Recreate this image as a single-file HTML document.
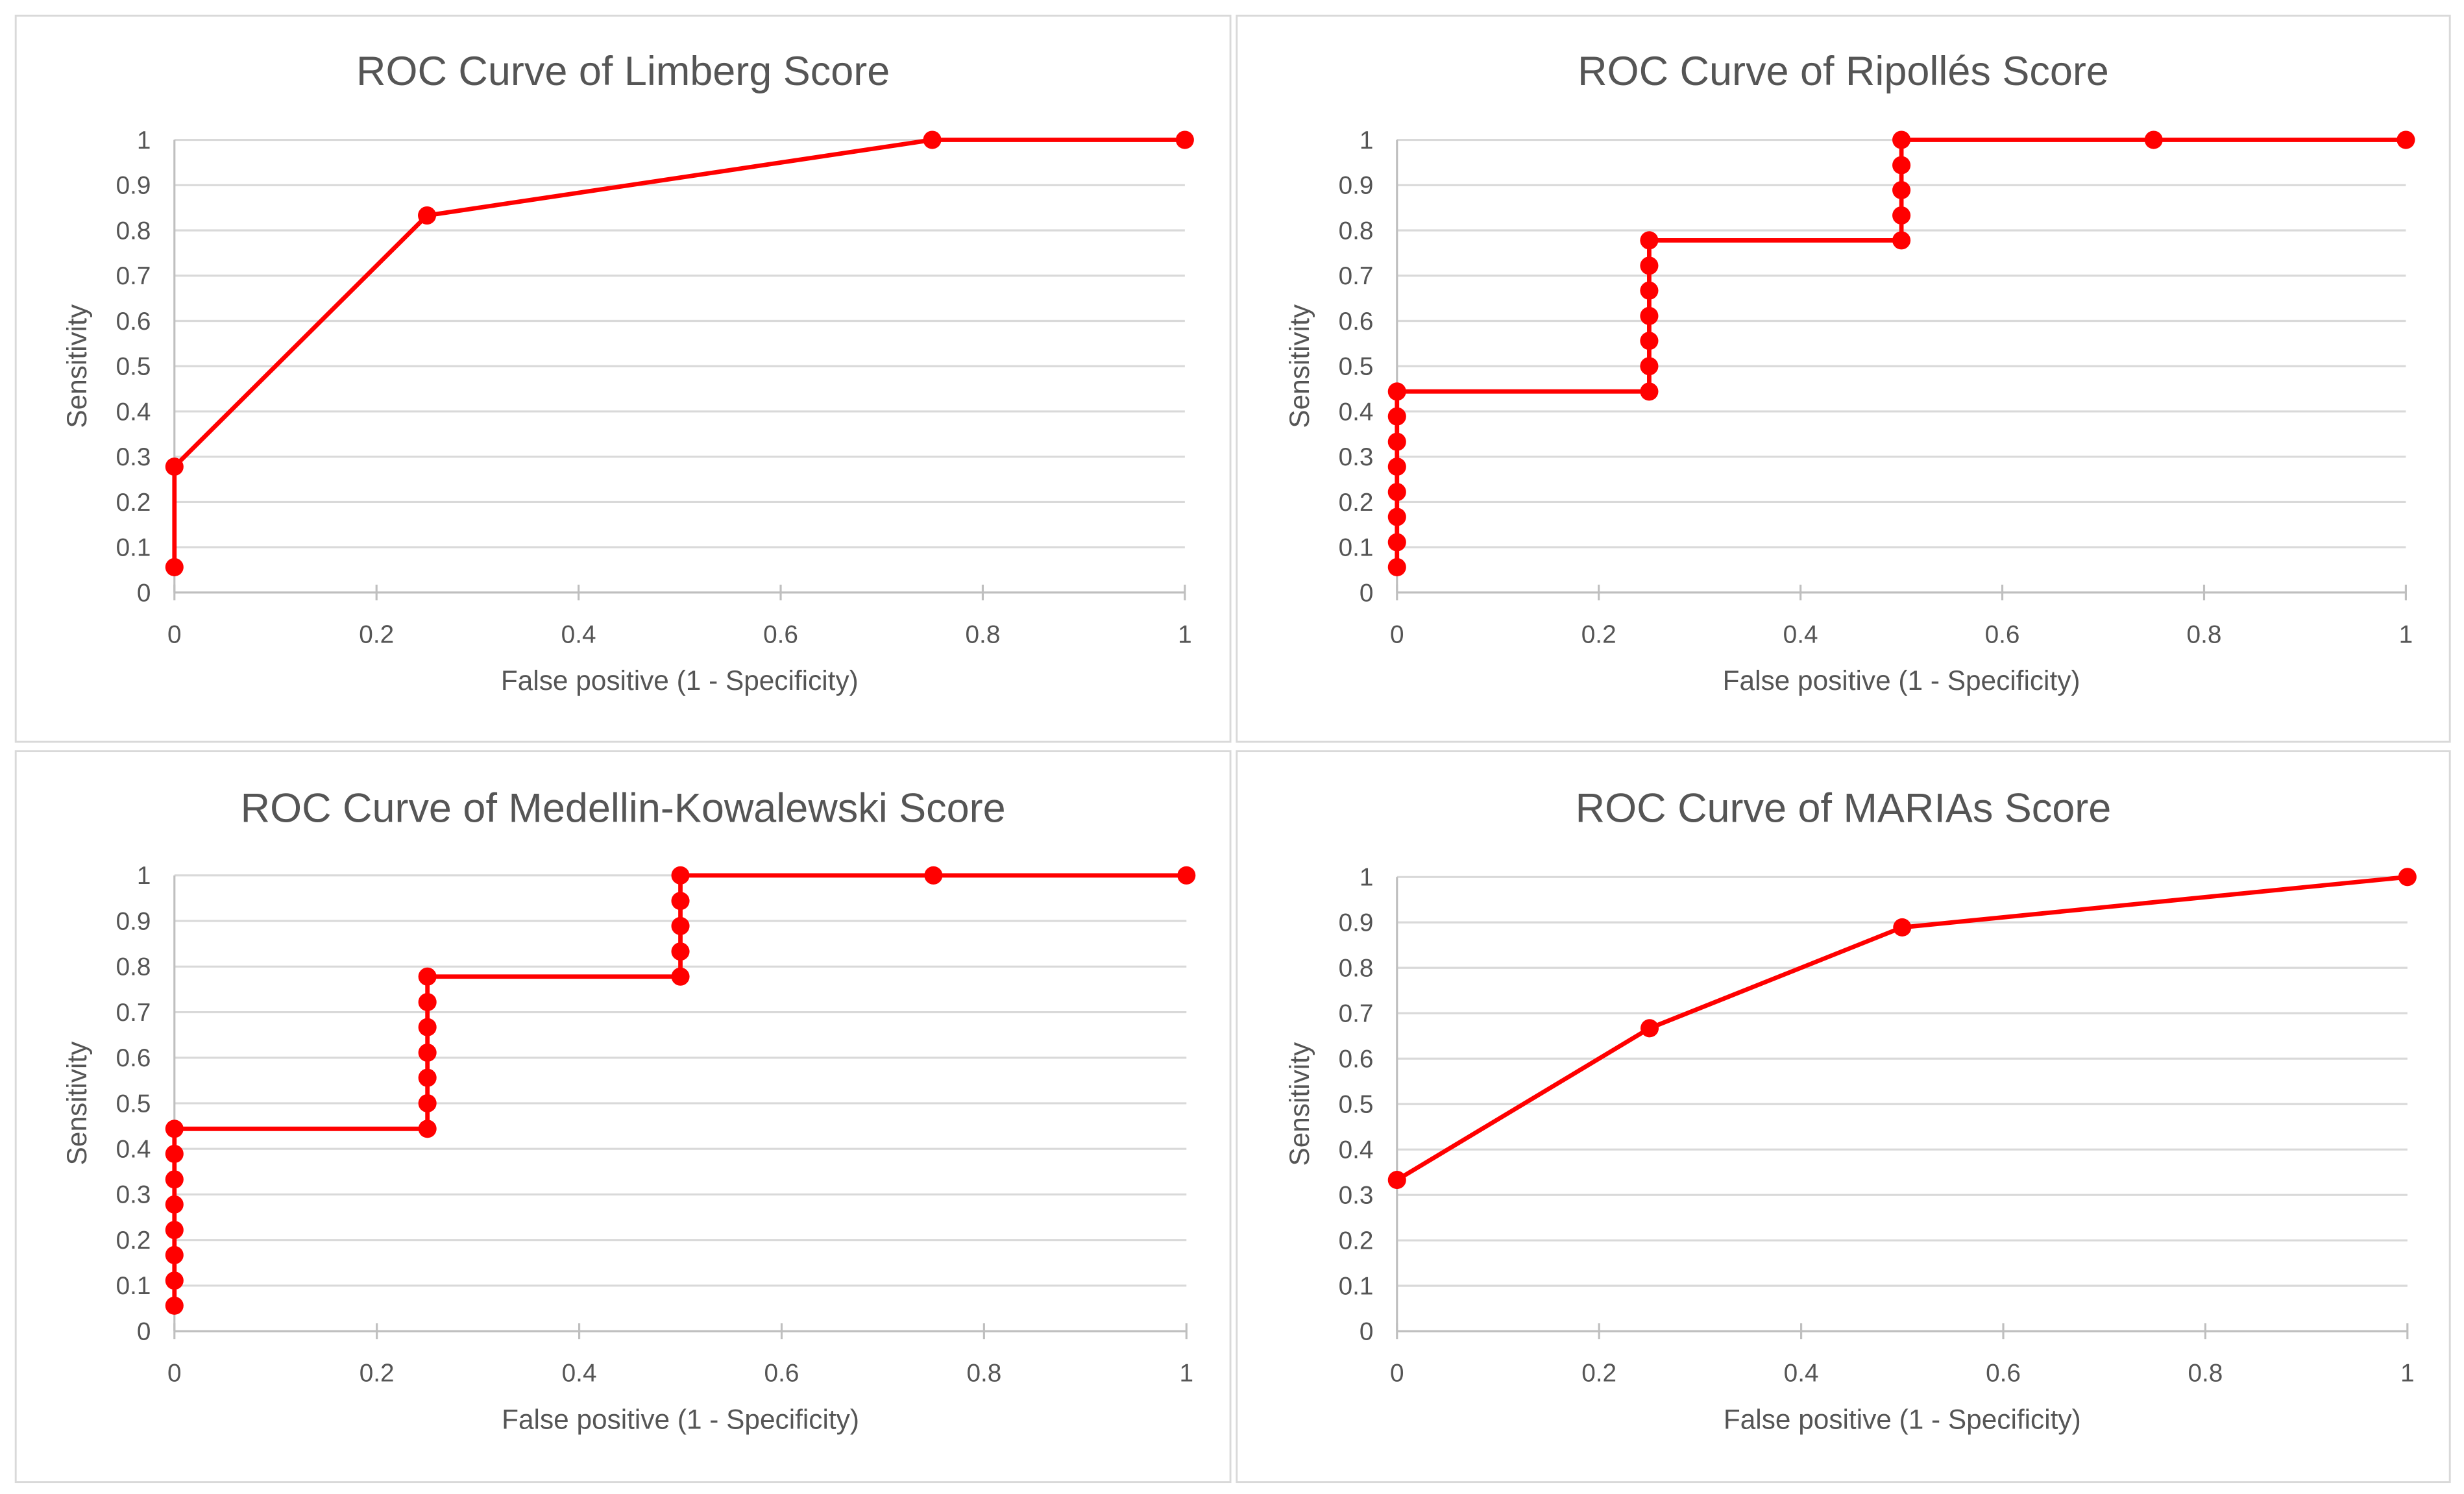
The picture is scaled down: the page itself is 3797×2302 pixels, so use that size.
<!DOCTYPE html>
<html><head><meta charset="utf-8"><style>
html,body{margin:0;padding:0;background:#fff;}
svg{display:block;}
text{font-family:"Liberation Sans",sans-serif;fill:#555;}
</style></head><body>
<svg id="fig" width="3797" height="2302" viewBox="0 0 1568 950.6" preserveAspectRatio="none" xmlns="http://www.w3.org/2000/svg"></svg>
<script>
const limbergX=[0,0,0.25,0.75,1];
const limbergY=[0.056,0.278,0.833,1,1];
const ripollesX=[0,0,0,0,0,0,0,0,0.25,0.25,0.25,0.25,0.25,0.25,0.25,0.5,0.5,0.5,0.5,0.5,0.75,1];
const ripollesY=[0.056,0.111,0.167,0.222,0.278,0.333,0.389,0.444,0.444,0.5,0.556,0.611,0.667,0.722,0.778,0.778,0.833,0.889,0.944,1,1,1];
const medellinX=[0,0,0,0,0,0,0,0,0.25,0.25,0.25,0.25,0.25,0.25,0.25,0.5,0.5,0.5,0.5,0.5,0.75,1];
const medellinY=[0.056,0.111,0.167,0.222,0.278,0.333,0.389,0.444,0.444,0.5,0.556,0.611,0.667,0.722,0.778,0.778,0.833,0.889,0.944,1,1,1];
const mariasX=[0,0.25,0.5,1];
const mariasY=[0.333,0.667,0.889,1];
const yTicks=[0,0.1,0.2,0.3,0.4,0.5,0.6,0.7,0.8,0.9,1];
const yTickLabels=["0","0.1","0.2","0.3","0.4","0.5","0.6","0.7","0.8","0.9","1"];
const xTicks=[0,0.2,0.4,0.6,0.8,1];
const xTickLabels=["0","0.2","0.4","0.6","0.8","1"];

const NS="http://www.w3.org/2000/svg";
const svg=document.getElementById('fig');
function mk(tag,attrs,parent){const e=document.createElementNS(NS,tag);for(const k in attrs)e.setAttribute(k,attrs[k]);(parent||svg).appendChild(e);return e;}

const panels=[
 {name:'limberg',title:'ROC Curve of Limberg Score',box:[10,10,773,462],px0:111,px1:754,py1:89,py0:377,ty:45,xs:limbergX,ys:limbergY},
 {name:'ripolles',title:'ROC Curve of Ripollés Score',box:[787,10,772,462],px0:889,px1:1531,py1:89,py0:377,ty:45,xs:ripollesX,ys:ripollesY},
 {name:'medellin',title:'ROC Curve of Medellin-Kowalewski Score',box:[10,478,773,465],px0:111,px1:755,py1:557,py0:847,ty:514,xs:medellinX,ys:medellinY},
 {name:'marias',title:'ROC Curve of MARIAs Score',box:[787,478,772,465],px0:889,px1:1532,py1:558,py0:847,ty:514,xs:mariasX,ys:mariasY}
];

panels.forEach(p=>{
 const g=mk('g',{});
 
 
 const bx=mk('rect',{x:p.box[0],y:p.box[1],width:p.box[2],height:p.box[3],fill:'#fff',stroke:'#d9d9d9','stroke-width':1.2},g);
 
 
 const sx=v=>p.px0+v*(p.px1-p.px0);
 const sy=v=>p.py0-v*(p.py0-p.py1);
 const t=mk('text',{x:p.box[0]+p.box[2]/2,y:p.ty+9,'font-size':26,'text-anchor':'middle'},g);
 t.textContent=p.title;
 
 
 yTicks.forEach((v,i)=>{
  const l=mk('line',{x1:p.px0,x2:p.px1,y1:sy(v),y2:sy(v),stroke:'#d9d9d9','stroke-width':1.3},g);
  
  
  const tl=mk('text',{x:p.px0-15,y:sy(v)+5.5,'font-size':16,'text-anchor':'end'},g);
  tl.textContent=yTickLabels[i];
  
  
 });
 const ya=mk('line',{x1:p.px0,x2:p.px0,y1:p.py1,y2:p.py0,stroke:'#bfbfbf','stroke-width':1.3},g);
 
 
 const xa=mk('line',{x1:p.px0,x2:p.px1,y1:p.py0,y2:p.py0,stroke:'#bfbfbf','stroke-width':1.3},g);
 
 
 xTicks.forEach((v,i)=>{
  const tk=mk('line',{x1:sx(v),x2:sx(v),y1:p.py0-5,y2:p.py0+5,stroke:'#bfbfbf','stroke-width':1.3},g);
  
  
  const tl=mk('text',{x:sx(v),y:p.py0+32,'font-size':16,'text-anchor':'middle'},g);
  tl.textContent=xTickLabels[i];
  
  
 });
 const xt=mk('text',{x:(p.px0+p.px1)/2,y:p.py0+62,'font-size':17.5,'text-anchor':'middle'},g);
 xt.textContent='False positive (1 - Specificity)';
 
 
 const ymid=(p.py0+p.py1)/2;
 const yt=mk('text',{x:p.px0-56,y:ymid,'font-size':17.5,'text-anchor':'middle',transform:`rotate(-90 ${p.px0-56} ${ymid})`},g);
 yt.textContent='Sensitivity';
 
 
 const pts=p.xs.map((x,i)=>sx(x)+','+sy(p.ys[i])).join(' ');
 const pl=mk('polyline',{points:pts,fill:'none',stroke:'#ff0000','stroke-width':2.8,'stroke-linejoin':'round'},g);
 
 
 p.xs.forEach((x,i)=>{
  const c=mk('circle',{cx:sx(x),cy:sy(p.ys[i]),r:5.8,fill:'#ff0000'},g);
  
  
 });
});
</script>
</body></html>
